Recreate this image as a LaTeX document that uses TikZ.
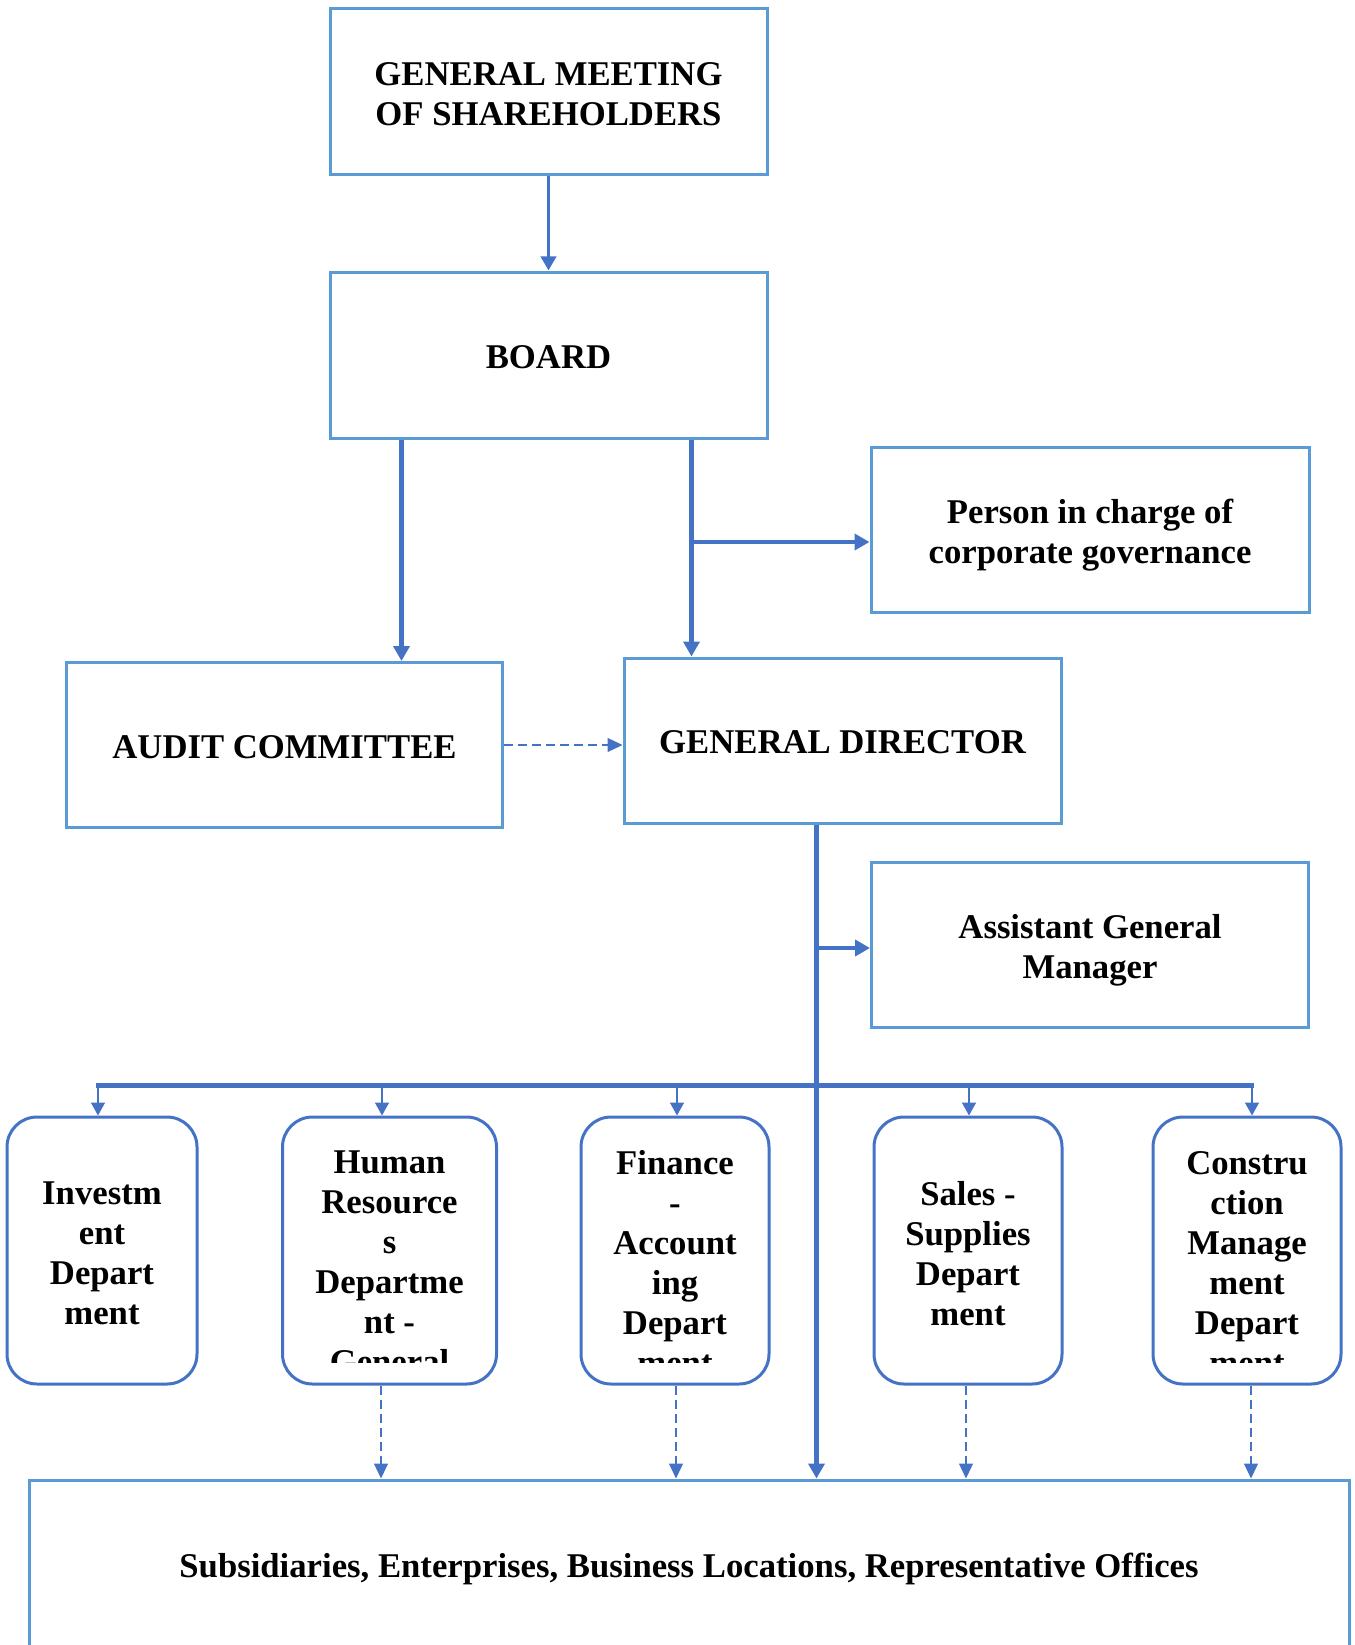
\documentclass[tikz,border=0pt]{standalone}
\usepackage{fontspec}
\setmainfont{Liberation Serif}
\usetikzlibrary{arrows.meta,calc}
\definecolor{boxblue}{HTML}{5B9BD5}
\definecolor{linkblue}{HTML}{4472C4}
\tikzset{
  box/.style={draw=boxblue, line width=3pt, rectangle, fill=white, inner sep=0pt},
  boxtext/.style={align=center, font=\fontsize{34.7}{40}\selectfont\bfseries, inner sep=0pt},
  deptbox/.style={draw=linkblue, line width=3pt, rectangle, rounded corners=30pt,
    minimum height=267pt, inner sep=0pt},
  depttext/.style={align=center, font=\fontsize{34.7}{40}\selectfont\bfseries,
    inner sep=0pt, anchor=north},
  thickarrow/.style={draw=linkblue, line width=4.5pt, -{Triangle[width=16pt,length=15pt]}},
  medarrow/.style={draw=linkblue, line width=3.5pt, -{Triangle[width=15pt,length=14pt]}},
  thinarrow/.style={draw=linkblue, line width=1.6pt, -{Triangle[width=14pt,length=13pt]}},
  dasharrow/.style={draw=linkblue, line width=1.2pt, dash pattern=on 9pt off 5pt,
    -{Triangle[width=14pt,length=15pt]}},
  busline/.style={draw=linkblue, line width=5pt},
}
\begin{document}
\begin{tikzpicture}[x=1pt,y=-1pt]
\useasboundingbox (0,0) rectangle (1354,1645);
\clip (0,0) rectangle (1354,1645);

% top boxes
\node[box, minimum width=437pt, minimum height=166pt] (gms) at (548.5,92) {};
\node[boxtext] (gmst) at ([yshift=-2pt]gms.center) {GENERAL MEETING\\OF SHAREHOLDERS};
\node[box, minimum width=437pt, minimum height=166pt] (board) at (548.5,355) {};
\node[boxtext] (boardt) at ([yshift=-2pt]board.center) {BOARD};
\node[box, minimum width=438pt, minimum height=165pt] (person) at (1090,530) {};
\node[boxtext] (persont) at ([yshift=-5pt]person.center) {Person in charge of\\corporate governance};
\node[box, minimum width=436pt, minimum height=165pt] (audit) at (284.5,745) {};
\node[boxtext] (auditt) at ([yshift=-2pt]audit.center) {AUDIT COMMITTEE};
\node[box, minimum width=437pt, minimum height=165pt] (gd) at (842.5,740.5) {};
\node[boxtext] (gdt) at ([yshift=-2pt]gd.center) {GENERAL DIRECTOR};
\node[box, minimum width=437pt, minimum height=165pt] (agm) at (1090,945) {};
\node[boxtext] (agmt) at ([yshift=-5pt]agm.center) {Assistant General\\Manager};

% bottom box (runs past the lower edge)
\node[box, minimum width=1320pt, minimum height=170pt] (sub) at (689,1565) {};
\node[boxtext] (subt) at ([yshift=-4pt]sub.center)
  {Subsidiaries, Enterprises, Business Locations, Representative Offices};

% department boxes
\node[deptbox, minimum width=190pt] (inv) at (102,1250.5) {};
\node[deptbox, minimum width=214pt] (hr) at (389.5,1250.5) {};
\node[deptbox, minimum width=188pt] (fin) at (675,1250.5) {};
\node[deptbox, minimum width=188pt] (sales) at (968,1250.5) {};
\node[deptbox, minimum width=188pt] (con) at (1247,1250.5) {};

\node[depttext, anchor=center] (invt) at ([yshift=-3pt]inv.center) {Investm\\ent\\Depart\\ment};
\node[depttext, anchor=center] (salest) at ([yshift=-3pt]sales.center) {Sales -\\Supplies\\Depart\\ment};
\begin{scope}
  \clip (282,1117) rectangle (497,1362);
  \node[depttext] (hrt) at (389.5,1151) {Human\\Resource\\s\\Departme\\nt -\\General};
\end{scope}
\begin{scope}
  \clip (581,1117) rectangle (769,1362);
  \node[depttext] (fint) at (675,1150) {Finance\\-\\Account\\ing\\Depart\\ment};
\end{scope}
\begin{scope}
  \clip (1152,1117) rectangle (1342,1362);
  \node[depttext] (cont) at (1247,1151) {Constru\\ction\\Manage\\ment\\Depart\\ment};
\end{scope}

% connectors
\draw[medarrow] (gms.south) -- (board.north);
\coordinate (bl) at ([xshift=73pt]board.south west);
\coordinate (br) at ([xshift=363pt]board.south west);
\draw[thickarrow] (bl) -- (bl |- audit.north);
\draw[thickarrow] (br) -- (br |- gd.north);
\draw[thickarrow] ([yshift=-12pt]br |- person.west) -- ([yshift=-12pt]person.west);
\draw[dasharrow] (audit.east) -- (audit.east -| gd.west);

\coordinate (trunk) at ([xshift=194pt]gd.south west);
\draw[thickarrow] (trunk) -- (trunk |- sub.north);
\draw[thickarrow] ([yshift=-3pt]trunk |- agm.west) -- ([yshift=-3pt]agm.west);

\coordinate (busL) at (98,1085);
\coordinate (busR) at (1252,1085);
\draw[busline] ([xshift=-1.6pt]busL) -- ([xshift=1.6pt]busR);
\draw[thinarrow] (busL) -- (busL |- inv.north);
\draw[thinarrow] ([xshift=-7.5pt]hr.north |- busL) -- ([xshift=-7.5pt]hr.north);
\draw[thinarrow] ([xshift=2pt]fin.north |- busL) -- ([xshift=2pt]fin.north);
\draw[thinarrow] ([xshift=1pt]sales.north |- busL) -- ([xshift=1pt]sales.north);
\draw[thinarrow] (busR) -- (busR |- con.north);

% dashed links to subsidiaries
\draw[dasharrow] ([xshift=-8.5pt]hr.south) -- ([xshift=-8.5pt]hr.south |- sub.north);
\draw[dasharrow] ([xshift=1pt]fin.south) -- ([xshift=1pt]fin.south |- sub.north);
\draw[dasharrow] ([xshift=-2pt]sales.south) -- ([xshift=-2pt]sales.south |- sub.north);
\draw[dasharrow] ([xshift=4pt]con.south) -- ([xshift=4pt]con.south |- sub.north);
\end{tikzpicture}
\end{document}
